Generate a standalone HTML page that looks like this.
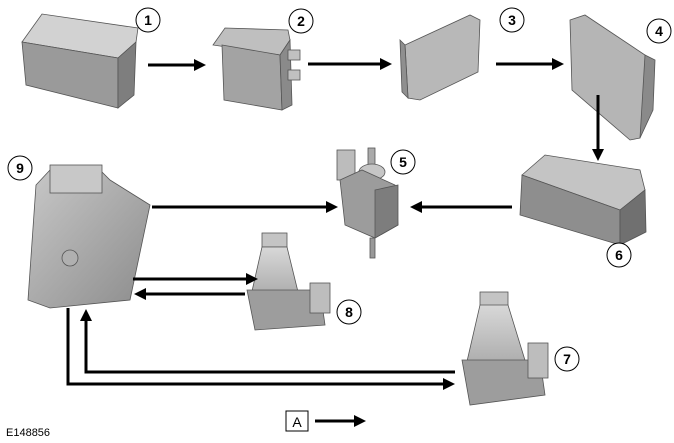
<!DOCTYPE html>
<html><head><meta charset="utf-8"><style>
html,body{margin:0;padding:0;background:#fff;}
svg{display:block;font-family:"Liberation Sans",sans-serif;}
</style></head><body>
<svg width="674" height="443" viewBox="0 0 674 443">
<defs>
<linearGradient id="g1" x1="0" y1="0" x2="1" y2="1"><stop offset="0" stop-color="#c8c8c8"/><stop offset="1" stop-color="#8c8c8c"/></linearGradient>
<linearGradient id="g2" x1="0" y1="0" x2="0" y2="1"><stop offset="0" stop-color="#d8d8d8"/><stop offset="1" stop-color="#a8a8a8"/></linearGradient>
<marker id="ah" markerWidth="4" markerHeight="4" refX="3" refY="2" orient="auto" markerUnits="strokeWidth"><path d="M0,0 L4,2 L0,4 z" fill="#000"/></marker>
</defs>
<g stroke="#555" stroke-width="0.8">
<!-- 1 battery -->
<polygon points="22,42 42,14 138,28 136,42 118,58" fill="#d2d2d2"/>
<polygon points="22,42 118,58 118,108 26,85" fill="#9a9a9a"/>
<polygon points="118,58 136,42 134,95 118,108" fill="#7e7e7e"/>
<!-- 2 fuse -->
<polygon points="213,45 225,28 288,30 290,40 280,55" fill="#bfbfbf"/>
<polygon points="222,45 280,55 282,110 224,100" fill="#a3a3a3"/>
<polygon points="280,55 290,40 292,105 282,110" fill="#8a8a8a"/>
<rect x="288" y="50" width="12" height="10" fill="#c0c0c0"/><rect x="288" y="70" width="12" height="10" fill="#c0c0c0"/>
<!-- 3 module -->
<polygon points="405,45 470,15 480,20 478,72 420,100 408,98" fill="#b8b8b8"/>
<polygon points="400,40 405,45 408,98 402,92" fill="#8f8f8f"/>
<!-- 4 module -->
<polygon points="570,20 585,15 645,55 650,85 640,138 630,140 572,90" fill="#b5b5b5"/>
<polygon points="645,55 655,60 653,110 640,138" fill="#8a8a8a"/>
<!-- 6 box -->
<polygon points="522,175 545,155 640,170 645,190 620,210" fill="#c4c4c4"/>
<polygon points="522,175 620,210 620,245 520,215" fill="#8e8e8e"/>
<polygon points="620,210 645,190 646,232 620,245" fill="#707070"/>
<!-- 5 switch -->
<rect x="337" y="150" width="18" height="30" fill="#bcbcbc"/>
<rect x="368" y="148" width="7" height="20" fill="#aaa"/>
<ellipse cx="372" cy="172" rx="13" ry="8" fill="#c6c6c6"/>
<polygon points="340,180 362,170 395,185 398,225 375,238 345,225" fill="#9c9c9c"/>
<polygon points="375,190 398,185 398,225 375,238" fill="#7d7d7d"/>
<rect x="370" y="238" width="5" height="20" fill="#999"/>
<!-- 9 ECU -->
<polygon points="50,170 100,170 110,180 150,205 130,300 50,308 28,300 36,185" fill="url(#g1)"/>
<rect x="50" y="165" width="52" height="28" fill="#c8c8c8"/>
<circle cx="70" cy="258" r="8" fill="#b0b0b0"/>
<!-- 8 pump -->
<rect x="262" y="233" width="25" height="14" fill="#c4c4c4"/>
<polygon points="262,247 287,247 300,300 250,300" fill="url(#g2)"/>
<polygon points="247,290 320,290 325,325 255,330" fill="#9d9d9d"/>
<rect x="310" y="283" width="20" height="30" fill="#bdbdbd"/>
<!-- 7 pump -->
<rect x="480" y="292" width="28" height="16" fill="#c4c4c4"/>
<polygon points="480,305 508,305 528,370 465,370" fill="url(#g2)"/>
<polygon points="462,360 540,360 545,395 470,405" fill="#9d9d9d"/>
<rect x="528" y="343" width="20" height="35" fill="#bdbdbd"/>
</g>
<g stroke="#000" stroke-width="3" fill="none" marker-end="url(#ah)">
<line x1="148" y1="65" x2="203" y2="65"/>
<line x1="308" y1="64" x2="389" y2="64"/>
<line x1="496" y1="64" x2="561" y2="64"/>
<line x1="598" y1="95" x2="598" y2="158"/>
<line x1="152" y1="207" x2="335" y2="207"/>
<line x1="512" y1="207" x2="413" y2="207"/>
<line x1="133" y1="279" x2="255" y2="279"/>
<line x1="245" y1="294" x2="137" y2="294"/>
<polyline points="455,372 86,372 86,312"/>
<polyline points="68,308 68,384 452,384"/>
<line x1="315" y1="421" x2="363" y2="421"/>
</g>
<g fill="#fff" stroke="#000" stroke-width="1">
<circle cx="148" cy="20" r="12"/><circle cx="301" cy="21" r="12"/><circle cx="512" cy="20" r="12"/><circle cx="659" cy="31" r="12"/>
<circle cx="403" cy="162" r="12"/><circle cx="619" cy="255" r="12"/><circle cx="567" cy="359" r="12"/><circle cx="349" cy="312" r="12"/><circle cx="20" cy="168" r="12"/>
<rect x="286" y="411" width="22" height="20"/>
</g>
<g font-size="14" font-weight="bold" text-anchor="middle" fill="#000">
<text x="148" y="25">1</text><text x="301" y="26">2</text><text x="512" y="25">3</text><text x="659" y="36">4</text>
<text x="403" y="167">5</text><text x="619" y="260">6</text><text x="567" y="364">7</text><text x="349" y="317">8</text><text x="20" y="173">9</text>
</g>
<text x="297" y="427" font-size="14" text-anchor="middle">A</text>
<text x="6" y="436" font-size="11">E148856</text>
</svg>
</body></html>
